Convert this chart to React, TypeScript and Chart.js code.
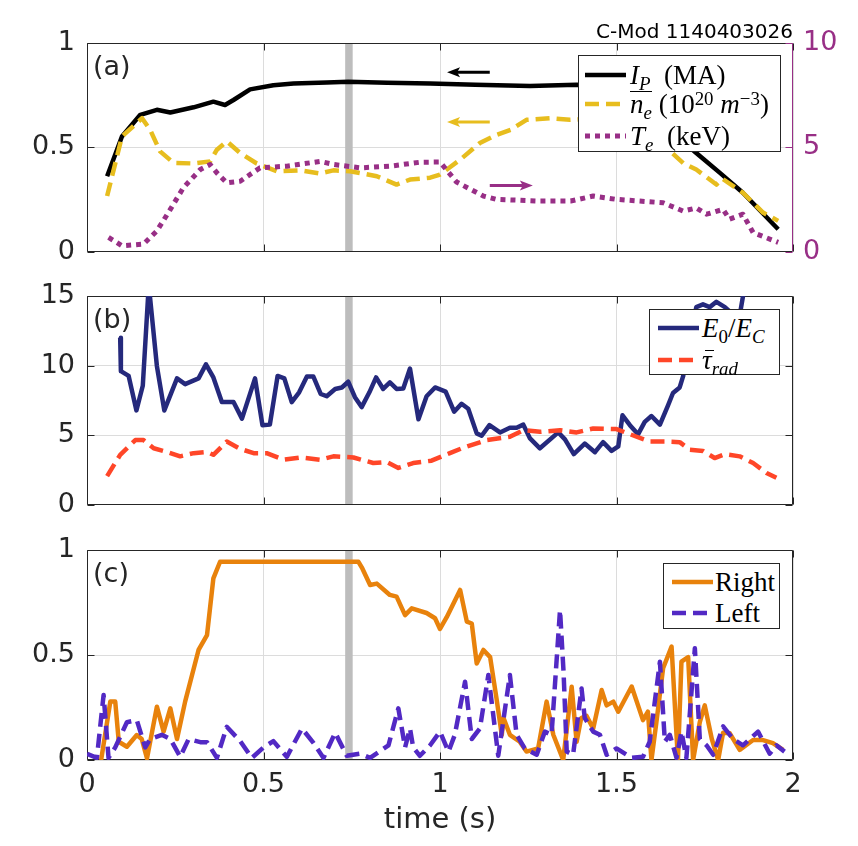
import React, { useEffect, useRef } from 'react'
import { Chart, registerables } from 'chart.js'

Chart.register(...registerables)

// ---- data (time in s) ----
const timeTicks = [0, 0.5, 1, 1.5, 2]
const unitTicks = [0, 0.5, 1]
const teTicks = [0, 5, 10]
const fieldTicks = [0, 5, 10, 15]

const ipTime = [0.057, 0.099, 0.151, 0.198, 0.236, 0.302, 0.358, 0.391, 0.415, 0.462, 0.528, 0.585, 0.679, 0.74, 0.85, 0.972, 1.1, 1.255, 1.387, 1.5, 1.6, 1.66, 1.726, 1.793, 1.858, 1.958]
const ipMA = [0.362, 0.552, 0.656, 0.68, 0.667, 0.692, 0.719, 0.703, 0.727, 0.778, 0.798, 0.806, 0.811, 0.815, 0.81, 0.806, 0.8, 0.794, 0.8, 0.79, 0.66, 0.57, 0.473, 0.378, 0.283, 0.108]

const neTime = [0.057, 0.099, 0.156, 0.179, 0.207, 0.245, 0.302, 0.349, 0.368, 0.396, 0.434, 0.481, 0.538, 0.604, 0.66, 0.698, 0.745, 0.821, 0.877, 0.915, 0.972, 1.0, 1.057, 1.113, 1.16, 1.2, 1.245, 1.311, 1.368, 1.45, 1.55, 1.64, 1.689, 1.726, 1.783, 1.8, 1.858, 1.915, 1.958]
const ne20 = [0.267, 0.552, 0.64, 0.584, 0.481, 0.426, 0.423, 0.433, 0.489, 0.529, 0.473, 0.423, 0.386, 0.39, 0.375, 0.39, 0.386, 0.362, 0.322, 0.346, 0.355, 0.37, 0.441, 0.521, 0.56, 0.584, 0.632, 0.64, 0.632, 0.64, 0.6, 0.5, 0.425, 0.394, 0.322, 0.35, 0.283, 0.188, 0.148]

const teTime = [0.061, 0.099, 0.16, 0.198, 0.236, 0.273, 0.321, 0.349, 0.368, 0.396, 0.434, 0.49, 0.566, 0.66, 0.7, 0.774, 0.858, 0.943, 1.0, 1.047, 1.123, 1.16, 1.283, 1.37, 1.434, 1.5, 1.632, 1.689, 1.726, 1.755, 1.802, 1.82, 1.858, 1.887, 1.958]
const teKeV = [0.69, 0.29, 0.37, 1.0, 2.03, 3.07, 3.94, 4.18, 3.78, 3.3, 3.38, 4.02, 4.1, 4.33, 4.18, 4.02, 4.1, 4.29, 4.3, 3.34, 2.67, 2.51, 2.43, 2.43, 2.67, 2.51, 2.35, 1.95, 2.1, 1.8, 2.03, 1.56, 1.8, 0.92, 0.45]

const eTime = [0.094, 0.096, 0.118, 0.14, 0.158, 0.175, 0.198, 0.219, 0.255, 0.278, 0.316, 0.337, 0.358, 0.382, 0.415, 0.439, 0.476, 0.497, 0.518, 0.54, 0.559, 0.58, 0.601, 0.623, 0.641, 0.662, 0.679, 0.703, 0.722, 0.74, 0.759, 0.778, 0.8, 0.819, 0.839, 0.858, 0.877, 0.896, 0.915, 0.939, 0.962, 0.986, 1.016, 1.04, 1.061, 1.08, 1.104, 1.118, 1.14, 1.17, 1.198, 1.217, 1.236, 1.255, 1.283, 1.335, 1.354, 1.379, 1.41, 1.439, 1.462, 1.486, 1.505, 1.517, 1.538, 1.561, 1.58, 1.599, 1.623, 1.646, 1.66, 1.679, 1.689, 1.698, 1.717, 1.726, 1.745, 1.764, 1.783, 1.807, 1.826, 1.85, 1.872]
const e0OverEc = [12.0, 9.6, 9.26, 6.78, 8.55, 15.8, 9.97, 6.78, 9.08, 8.67, 9.08, 10.09, 9.15, 7.38, 7.38, 6.19, 9.08, 5.72, 5.76, 9.26, 9.08, 7.38, 8.08, 9.22, 9.22, 7.96, 7.8, 8.32, 8.43, 8.84, 7.73, 7.02, 8.08, 9.15, 8.32, 8.79, 8.32, 8.35, 9.79, 6.14, 7.8, 8.43, 8.13, 6.69, 7.26, 6.9, 5.13, 4.96, 5.72, 5.2, 5.53, 5.53, 5.76, 4.77, 4.06, 5.2, 4.7, 3.64, 4.4, 3.78, 4.5, 3.87, 4.2, 6.43, 5.72, 5.06, 5.96, 6.38, 5.76, 7.14, 8.03, 8.43, 9.26, 11.4, 13.05, 14.2, 14.4, 14.2, 14.58, 14.2, 13.76, 13.76, 17]

const tauTime = [0.057, 0.094, 0.137, 0.16, 0.189, 0.226, 0.264, 0.302, 0.34, 0.358, 0.396, 0.434, 0.472, 0.509, 0.557, 0.604, 0.66, 0.698, 0.755, 0.811, 0.849, 0.882, 0.924, 0.976, 1.028, 1.066, 1.132, 1.198, 1.236, 1.283, 1.34, 1.387, 1.434, 1.5, 1.557, 1.594, 1.64, 1.679, 1.708, 1.745, 1.778, 1.807, 1.849, 1.887, 1.925, 1.953]
const tauRad = [2.06, 3.59, 4.65, 4.65, 4.06, 3.8, 3.48, 3.71, 3.8, 3.59, 4.54, 4.02, 3.71, 3.71, 3.24, 3.4, 3.24, 3.48, 3.4, 3.0, 3.07, 2.65, 3.0, 3.17, 3.71, 4.1, 4.65, 4.89, 5.36, 5.24, 5.36, 5.2, 5.48, 5.44, 4.89, 4.54, 4.54, 4.5, 3.95, 3.87, 3.36, 3.64, 3.48, 3.0, 2.29, 1.94]

const rightTime = [0.04, 0.066, 0.08, 0.09, 0.113, 0.141, 0.155, 0.17, 0.198, 0.217, 0.236, 0.255, 0.278, 0.316, 0.34, 0.358, 0.377, 0.769, 0.78, 0.802, 0.821, 0.858, 0.877, 0.901, 0.92, 0.962, 0.986, 1.0, 1.019, 1.057, 1.076, 1.09, 1.104, 1.123, 1.142, 1.16, 1.175, 1.18, 1.198, 1.226, 1.245, 1.278, 1.302, 1.321, 1.349, 1.373, 1.387, 1.4, 1.415, 1.434, 1.458, 1.472, 1.491, 1.505, 1.543, 1.575, 1.589, 1.599, 1.613, 1.632, 1.656, 1.674, 1.684, 1.703, 1.717, 1.736, 1.75, 1.77, 1.788, 1.802, 1.821, 1.849, 1.887, 1.915, 1.943, 1.972]
const rightSig = [0.0, 0.278, 0.278, 0.087, 0.063, 0.119, 0.1, 0.008, 0.254, 0.135, 0.246, 0.1, 0.278, 0.524, 0.595, 0.865, 0.944, 0.944, 0.912, 0.833, 0.84, 0.786, 0.778, 0.69, 0.722, 0.7, 0.675, 0.624, 0.68, 0.81, 0.659, 0.65, 0.46, 0.524, 0.49, 0.294, 0.119, 0.2, 0.12, 0.087, 0.04, 0.055, 0.278, 0.12, 0.0, 0.349, 0.087, 0.2, 0.21, 0.15, 0.333, 0.26, 0.278, 0.23, 0.35, 0.19, 0.23, 0.0, 0.18, 0.437, 0.54, 0.0, 0.468, 0.49, 0.0, 0.18, 0.26, 0.1, 0.0, 0.13, 0.127, 0.048, 0.095, 0.095, 0.08, 0.048]

const leftTime = [0.0, 0.028, 0.047, 0.061, 0.08, 0.113, 0.141, 0.165, 0.179, 0.212, 0.236, 0.264, 0.288, 0.321, 0.34, 0.368, 0.396, 0.434, 0.467, 0.5, 0.528, 0.566, 0.609, 0.642, 0.67, 0.703, 0.736, 0.774, 0.802, 0.854, 0.882, 0.901, 0.915, 0.924, 0.943, 0.972, 1.0, 1.024, 1.042, 1.071, 1.09, 1.113, 1.137, 1.165, 1.198, 1.217, 1.24, 1.274, 1.297, 1.316, 1.34, 1.35, 1.359, 1.377, 1.401, 1.41, 1.434, 1.453, 1.472, 1.5, 1.543, 1.575, 1.594, 1.623, 1.637, 1.651, 1.67, 1.684, 1.698, 1.722, 1.736, 1.755, 1.774, 1.802, 1.83, 1.858, 1.901, 1.934, 1.953, 1.976]
const leftSig = [0.03, 0.01, 0.31, 0.01, 0.06, 0.18, 0.19, 0.06, 0.1, 0.12, 0.1, 0.015, 0.1, 0.085, 0.085, 0.01, 0.158, 0.09, 0.01, 0.06, 0.09, 0.015, 0.15, 0.08, 0.01, 0.13, 0.02, 0.03, 0.01, 0.07, 0.246, 0.06, 0.15, 0.06, 0.02, 0.07, 0.135, 0.04, 0.12, 0.373, 0.1, 0.15, 0.405, 0.02, 0.405, 0.12, 0.055, 0.025, 0.135, 0.12, 0.714, 0.42, 0.04, 0.025, 0.34, 0.2, 0.135, 0.12, 0.025, 0.055, 0.01, 0.015, 0.087, 0.468, 0.087, 0.12, 0.01, 0.135, 0.01, 0.532, 0.1, 0.07, 0.025, 0.16, 0.1, 0.07, 0.135, 0.03, 0.07, 0.04]

const markerTime = 0.742

// ---- styles ----
const INK = '#262626'
const GRID = '#dcdcdc'
const BAND = '#bdbdbd'
const C_IP = '#000000'
const C_NE = '#e7bd1e'
const C_TE = '#982f86'
const C_E0 = '#25297c'
const C_TAU = '#ff4628'
const C_RIGHT = '#e8820c'
const C_LEFT = '#5229c4'
const SANS = '"DejaVu Sans", sans-serif'
const SERIF = '"Liberation Serif", "DejaVu Serif", serif'

const W = 858
const PLOT_L = 87
const PLOT_R = 793
const LW = 4.5
const DASH = [14, 7]
const DOT = [5, 5]

const pts = (xs: number[], ys: number[]) => xs.map((x, i) => ({ x, y: ys[i] }))

type Arrow = { from: number; to: number; y: number; color: string }

function makeFrame(rightColor: string, arrows: Arrow[] = []) {
	return {
		id: 'frame',
		beforeDatasetsDraw(chart: any) {
			const { ctx, chartArea: a, scales } = chart
			ctx.save()
			const bx = scales.x.getPixelForValue(markerTime)
			ctx.fillStyle = BAND
			ctx.fillRect(bx - 3.75, a.top, 7.5, a.bottom - a.top)
			ctx.lineWidth = 1
			const l = Math.round(a.left) + 0.5
			const r = Math.round(a.right) - 0.5
			const t = Math.round(a.top) + 0.5
			const b = Math.round(a.bottom) - 0.5
			ctx.strokeStyle = INK
			ctx.beginPath()
			ctx.moveTo(r, t)
			ctx.lineTo(l, t)
			ctx.lineTo(l, b)
			ctx.lineTo(r, b)
			scales.x.ticks.forEach((tk: any) => {
				const x = Math.round(scales.x.getPixelForValue(tk.value)) + 0.5
				ctx.moveTo(x, b)
				ctx.lineTo(x, b - 7)
				ctx.moveTo(x, t)
				ctx.lineTo(x, t + 7)
			})
			scales.y.ticks.forEach((tk: any) => {
				const y = Math.round(scales.y.getPixelForValue(tk.value)) + 0.5
				ctx.moveTo(l, y)
				ctx.lineTo(l + 7, y)
			})
			ctx.stroke()
			ctx.strokeStyle = rightColor
			ctx.beginPath()
			ctx.moveTo(r, t)
			ctx.lineTo(r, b)
			scales.y.ticks.forEach((tk: any) => {
				const y = Math.round(scales.y.getPixelForValue(tk.value)) + 0.5
				ctx.moveTo(r, y)
				ctx.lineTo(r - 7, y)
			})
			ctx.stroke()
			ctx.restore()
		},
		afterDatasetsDraw(chart: any) {
			const { ctx, scales } = chart
			ctx.save()
			arrows.forEach((ar) => {
				const x0 = scales.x.getPixelForValue(ar.from)
				const x1 = scales.x.getPixelForValue(ar.to)
				const y = scales.y.getPixelForValue(ar.y)
				const dir = Math.sign(x1 - x0)
				ctx.strokeStyle = ar.color
				ctx.fillStyle = ar.color
				ctx.lineWidth = 3
				ctx.beginPath()
				ctx.moveTo(x0, y)
				ctx.lineTo(x1 - dir * 8, y)
				ctx.stroke()
				ctx.beginPath()
				ctx.moveTo(x1, y)
				ctx.lineTo(x1 - dir * 13, y - 5)
				ctx.lineTo(x1 - dir * 10, y)
				ctx.lineTo(x1 - dir * 13, y + 5)
				ctx.closePath()
				ctx.fill()
			})
			ctx.restore()
		},
	}
}

const tickFont = { family: SANS, size: 27 }

function xScale(showLabels: boolean, axisHeight: number) {
	return {
		type: 'linear',
		min: 0,
		max: 2,
		afterBuildTicks: (s: any) => {
			s.ticks = timeTicks.map((v) => ({ value: v }))
		},
		afterFit: (s: any) => {
			s.height = axisHeight
		},
		grid: { color: GRID, drawTicks: false },
		border: { display: false },
		ticks: {
			display: showLabels,
			padding: 9,
			color: INK,
			font: tickFont,
			maxRotation: 0,
			autoSkip: false,
			callback: (v: any) => String(v),
		},
		title: {
			display: showLabels,
			text: 'time (s)',
			color: INK,
			font: { family: SANS, size: 29 },
			padding: { top: 4, bottom: 8 },
		},
	}
}

function yScale(ticks: number[], opts: any = {}) {
	const { position = 'left', color = INK, labels = true, grid = true, width = PLOT_L, padding = 12 } = opts
	return {
		type: 'linear',
		position,
		min: ticks[0],
		max: ticks[ticks.length - 1],
		afterBuildTicks: (s: any) => {
			s.ticks = ticks.map((v) => ({ value: v }))
		},
		afterFit: (s: any) => {
			s.width = width
		},
		grid: { display: grid, color: GRID, drawTicks: false },
		border: { display: false },
		ticks: {
			display: labels,
			padding,
			color,
			font: tickFont,
			autoSkip: false,
			callback: (v: any) => String(v),
		},
	}
}

function lineSet(data: any[], color: string, dash: number[] = [], extra: any = {}) {
	return {
		data,
		borderColor: color,
		backgroundColor: color,
		borderWidth: LW,
		borderDash: dash,
		borderCapStyle: 'butt',
		borderJoinStyle: 'round',
		pointRadius: 0,
		tension: 0,
		fill: false,
		...extra,
	}
}

type PanelProps = {
	plotTop: number
	plotBottom: number
	canvasTop: number
	canvasBottom: number
	build: (padTop: number, axisH: number) => any
}

const Panel: React.FC<PanelProps> = ({ plotTop, plotBottom, canvasTop, canvasBottom, build }) => {
	const ref = useRef<HTMLCanvasElement>(null)
	const h = canvasBottom - canvasTop

	useEffect(() => {
		if (!ref.current) return
		const chart = new Chart(ref.current, build(plotTop - canvasTop, canvasBottom - plotBottom))
		return () => {
			chart.destroy()
		}
	}, [])

	return (
		<div style={{ position: 'absolute', left: 0, top: canvasTop, width: W, height: h }}>
			<canvas ref={ref} />
		</div>
	)
}

const baseOptions = (padTop: number, padRight: number) => ({
	responsive: true,
	maintainAspectRatio: false,
	animation: false,
	events: [],
	layout: { padding: { top: padTop, right: padRight, left: 0, bottom: 0 } },
	plugins: { legend: { display: false }, tooltip: { enabled: false }, title: { display: false } },
})

const buildA = (padTop: number, axisH: number) => ({
	type: 'line',
	data: {
		datasets: [
			lineSet(pts(teTime, teKeV), C_TE, DOT, { yAxisID: 'y2', borderWidth: 5 }),
			lineSet(pts(neTime, ne20), C_NE, DASH, { yAxisID: 'y' }),
			lineSet(pts(ipTime, ipMA), C_IP, [], { yAxisID: 'y' }),
		],
	},
	options: {
		...baseOptions(padTop, 0),
		scales: {
			x: xScale(false, axisH),
			y: yScale(unitTicks),
			y2: yScale(teTicks, { position: 'right', color: C_TE, grid: false, width: W - PLOT_R, padding: 10 }),
		},
	},
	plugins: [
		makeFrame(C_TE, [
			{ from: 1.141, to: 1.02, y: 0.86, color: C_IP },
			{ from: 1.141, to: 1.02, y: 0.622, color: C_NE },
			{ from: 1.141, to: 1.263, y: 0.317, color: C_TE },
		]),
	],
})

const buildB = (padTop: number, axisH: number) => ({
	type: 'line',
	data: {
		datasets: [
			lineSet(pts(tauTime, tauRad), C_TAU, DASH),
			lineSet(pts(eTime, e0OverEc), C_E0),
		],
	},
	options: {
		...baseOptions(padTop, W - PLOT_R),
		scales: { x: xScale(false, axisH), y: yScale(fieldTicks) },
	},
	plugins: [makeFrame(INK)],
})

const buildC = (padTop: number, axisH: number) => ({
	type: 'line',
	data: {
		datasets: [
			lineSet(pts(leftTime, leftSig), C_LEFT, DASH),
			lineSet(pts(rightTime, rightSig), C_RIGHT),
		],
	},
	options: {
		...baseOptions(padTop, W - PLOT_R),
		scales: { x: xScale(true, axisH), y: yScale(unitTicks) },
	},
	plugins: [makeFrame(INK)],
})

const sub = (c: React.ReactNode) => (
	<span style={{ fontSize: '0.7em', position: 'relative', top: '0.3em' }}>{c}</span>
)
const sup = (c: React.ReactNode) => (
	<span style={{ fontSize: '0.7em', position: 'relative', top: '-0.45em' }}>{c}</span>
)

type LegendRow = { color: string; dash: string; width?: number; y: number; label: React.ReactNode }

const Legend: React.FC<{ left: number; top: number; width: number; height: number; lineX: number; textX: number; rows: LegendRow[] }> = ({
	left,
	top,
	width,
	height,
	lineX,
	textX,
	rows,
}) => (
	<div
		style={{
			position: 'absolute',
			left,
			top,
			width,
			height,
			boxSizing: 'border-box',
			border: `1px solid ${INK}`,
			background: '#fff',
		}}
	>
		{rows.map((r, i) => (
			<div key={i} style={{ position: 'absolute', left: 0, top: r.y - 16, height: 32, width: '100%' }}>
				<svg width={42} height={32} style={{ position: 'absolute', left: lineX - 1, top: 0 }}>
					<line x1={0} y1={16} x2={41} y2={16} stroke={r.color} strokeWidth={r.width ?? LW} strokeDasharray={r.dash} />
				</svg>
				<div
					style={{
						position: 'absolute',
						left: textX - 1,
						top: 0,
						height: 32,
						lineHeight: '32px',
						fontFamily: SERIF,
						fontSize: 27,
						color: '#000',
						whiteSpace: 'nowrap',
					}}
				>
					{r.label}
				</div>
			</div>
		))}
	</div>
)

const PanelLabel: React.FC<{ top: number; text: string }> = ({ top, text }) => (
	<div
		style={{
			position: 'absolute',
			left: 93,
			top: top + 23 - 16,
			height: 32,
			lineHeight: '32px',
			fontFamily: SANS,
			fontSize: 27,
			color: INK,
		}}
	>
		{text}
	</div>
)

const App: React.FC = () => {
	return (
		<div style={{ position: 'fixed', left: 0, top: 0, width: W, height: 846, overflow: 'hidden', background: '#fff' }}>
			<Panel plotTop={43} plotBottom={253} canvasTop={0} canvasBottom={280} build={buildA} />
			<Panel plotTop={296} plotBottom={507} canvasTop={260} canvasBottom={533} build={buildB} />
			<Panel plotTop={550} plotBottom={760} canvasTop={515} canvasBottom={846} build={buildC} />

			<div
				style={{
					position: 'absolute',
					right: W - PLOT_R,
					top: 21,
					height: 20,
					lineHeight: '20px',
					fontFamily: SANS,
					fontSize: 20,
					color: '#000',
				}}
			>
				C-Mod 1140403026
			</div>

			<PanelLabel top={43} text="(a)" />
			<PanelLabel top={296} text="(b)" />
			<PanelLabel top={550} text="(c)" />

			<Legend
				left={578}
				top={55}
				width={203}
				height={97}
				lineX={7}
				textX={52}
				rows={[
					{ color: C_IP, dash: '', y: 19, label: <><i>I</i>{sub(<i>P</i>)}&nbsp; (MA)</> },
					{
						color: C_NE,
						dash: DASH.join(' '),
						y: 48,
						label: (
							<>
								<span style={{ display: 'inline-block', borderTop: '1.5px solid #000', lineHeight: '24px' }}>
									<i>n</i>
									{sub(<i>e</i>)}
								</span>{' '}
								(10{sup('20')} <i>m</i>
								{sup('−3')})
							</>
						),
					},
					{ color: C_TE, dash: DOT.join(' '), width: 5, y: 80, label: <><i>T</i>{sub(<i>e</i>)}&nbsp; (keV)</> },
				]}
			/>

			<Legend
				left={649}
				top={309}
				width={131}
				height={66}
				lineX={9}
				textX={53}
				rows={[
					{ color: C_E0, dash: '', y: 18, label: <><i>E</i>{sub('0')}/<i>E</i>{sub(<i>C</i>)}</> },
					{
						color: C_TAU,
						dash: DASH.join(' '),
						y: 50,
						label: (
							<>
								<span style={{ position: 'relative', display: 'inline-block' }}>
									<i>τ</i>
									<span
										style={{
											position: 'absolute',
											left: 3,
											top: 6,
											width: 9,
											borderTop: '1.5px solid #000',
										}}
									/>
								</span>
								{sub(<i>rad</i>)}
							</>
						),
					},
				]}
			/>

			<Legend
				left={663}
				top={563}
				width={117}
				height={66}
				lineX={9}
				textX={52}
				rows={[
					{ color: C_RIGHT, dash: '', y: 18, label: 'Right' },
					{ color: C_LEFT, dash: DASH.join(' '), y: 49, label: 'Left' },
				]}
			/>
		</div>
	)
}

export default App
